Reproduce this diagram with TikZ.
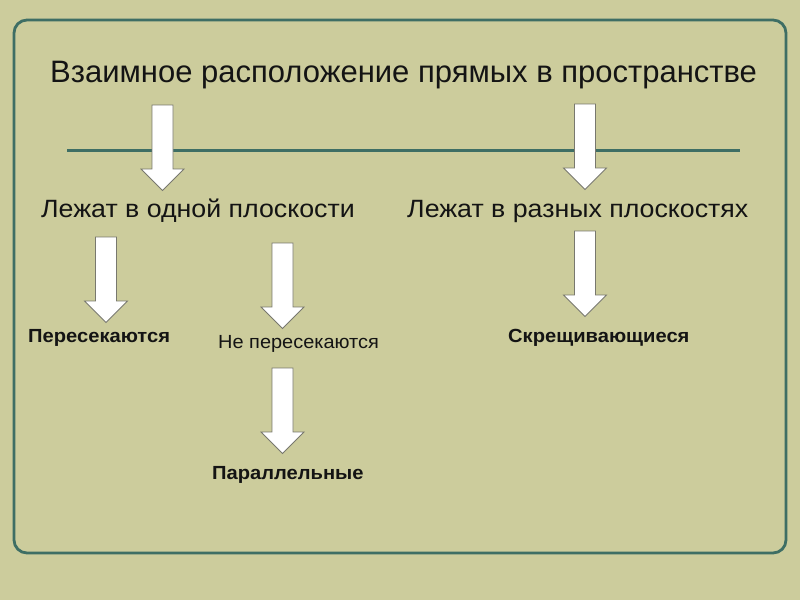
\documentclass[tikz,border=0pt]{standalone}
\usepackage{fontspec}
\setmainfont{Liberation Sans}
\newfontfamily\midfont[FakeStretch=1.07]{Liberation Sans}
\newfontfamily\boldwide[FakeStretch=1.06,UprightFont={* Bold}]{Liberation Sans}
\newfontfamily\regwide[FakeStretch=1.05]{Liberation Sans}
\definecolor{bgol}{RGB}{204,204,156}
\definecolor{frameteal}{RGB}{62,110,100}
\definecolor{txt}{RGB}{20,20,20}
\definecolor{arrowedge}{RGB}{120,120,110}
\begin{document}
\begin{tikzpicture}[x=1pt,y=-1pt,
  lbl/.style={inner sep=0pt,text=txt,anchor=base west},
  titletext/.style={lbl,font=\fontsize{31}{36}\selectfont},
  midtext/.style={lbl,font=\midfont\fontsize{25}{30}\selectfont},
  smallbold/.style={lbl,font=\boldwide\fontsize{19}{22}\selectfont},
  smallreg/.style={lbl,font=\regwide\fontsize{19}{22}\selectfont},
  blockarrow/.pic={
    \draw[arrowedge,line width=0.8pt,fill=white,line join=miter]
      (-10.5,0) -- (10.5,0) -- (10.5,64) -- (21.5,64) -- (0,85.5)
      -- (-21.5,64) -- (-10.5,64) -- cycle;
  }]
\fill[bgol] (0,0) rectangle (800,600);
\useasboundingbox (0,0) rectangle (800,600);
\draw[frameteal,line width=2.8pt,rounded corners=13pt] (14,20) rectangle (786,553);
\coordinate (lineL) at (67,150);
\coordinate (lineR) at (740,150);
\draw[frameteal,line width=3pt] (lineL) -- (lineR);
\node[titletext] (title) at (50,82) {Взаимное расположение прямых в пространстве};
\pic at (162.5,105) {blockarrow};
\pic at (585,104) {blockarrow};
\node[midtext] (same) at (41,217) {Лежат в одной плоскости};
\node[midtext] (diff) at (407,217) {Лежат в разных плоскостях};
\pic at (106,237) {blockarrow};
\pic at (282.5,243) {blockarrow};
\pic at (585,231) {blockarrow};
\node[smallbold] (cross) at (28,342) {Пересекаются};
\node[smallreg] (nocross) at (218,348) {Не пересекаются};
\node[smallbold] (skew) at (508,342) {Скрещивающиеся};
\pic at (282.5,368) {blockarrow};
\node[smallbold] (par) at (212,479) {Параллельные};
\end{tikzpicture}
\end{document}
